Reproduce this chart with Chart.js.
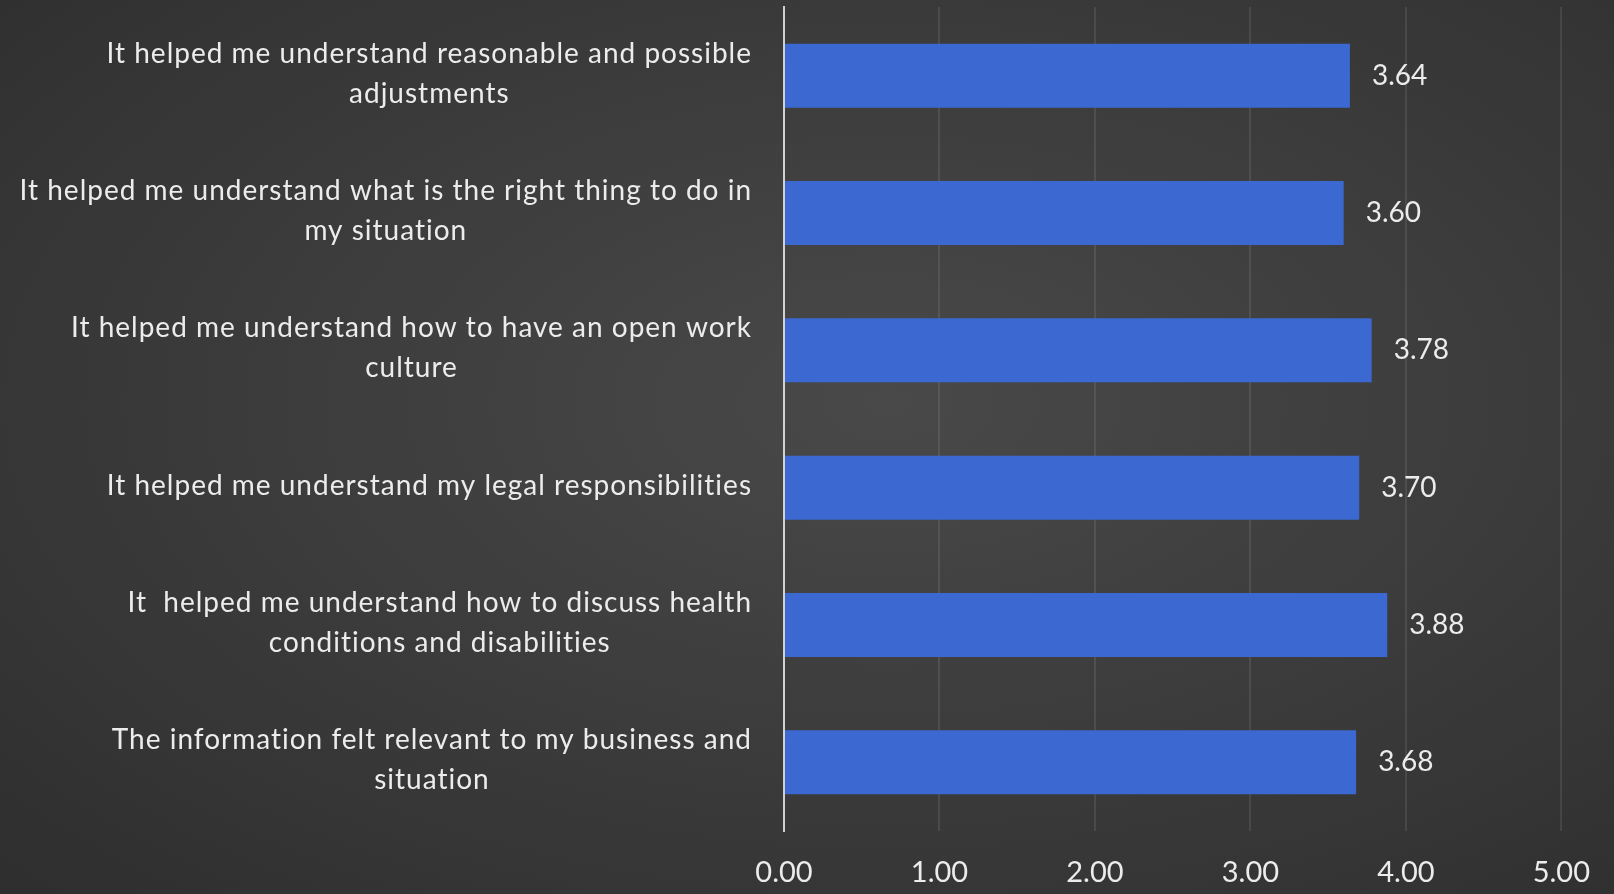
<!DOCTYPE html>
<html>
<head>
<meta charset="utf-8">
<script src="https://cdn.jsdelivr.net/npm/chart.js@4/dist/chart.umd.min.js"></script>
<style>
  html, body { margin: 0; padding: 0; }
  body {
    width: 1614px; height: 894px; overflow: hidden;
    background: radial-gradient(ellipse at 55% 45%, #494949 0%, #3d3d3d 45%, #2e2e2e 100%);
  }
  #wrap { position: relative; width: 1614px; height: 894px; }
</style>
</head>
<body>
<div id="wrap"><canvas id="c"></canvas></div>
<script>
const categories = [
  ["It helped me understand reasonable and possible", "adjustments"],
  ["It helped me understand what is the right thing to do in", "my situation"],
  ["It helped me understand how to have an open work", "culture"],
  ["It helped me understand my legal responsibilities"],
  ["It  helped me understand how to discuss health", "conditions and disabilities"],
  ["The information felt relevant to my business and", "situation"]
];
const scores = [3.64, 3.60, 3.78, 3.70, 3.88, 3.68];
const xTicks = [0, 1, 2, 3, 4, 5];

const FONT = "Lato, 'Open Sans', sans-serif";
const TEXT = '#ececec';

const labelPlugin = {
  id: 'labelPlugin',
  afterDatasetsDraw(chart) {
    const ctx = chart.ctx;
    const meta = chart.getDatasetMeta(0);
    const yScale = chart.scales.y;
    ctx.save();
    ctx.fillStyle = TEXT;
    ctx.font = '28px ' + FONT;
    ctx.textBaseline = 'middle';
    // value labels
    ctx.textAlign = 'left';
    meta.data.forEach((bar, i) => {
      ctx.fillText(scores[i].toFixed(2), bar.x + 22, bar.y);
    });
    // category labels: block right aligned, lines centred within block
    ctx.letterSpacing = '1px';
    const right = yScale.right - 32;
    const lh = 40;
    ctx.textAlign = 'center';
    categories.forEach((lines, i) => {
      const y = yScale.getPixelForTick(i) - 2;
      const w = Math.max(...lines.map(l => ctx.measureText(l).width));
      const cx = right - w / 2;
      const y0 = y - (lines.length - 1) * lh / 2;
      lines.forEach((l, j) => ctx.fillText(l, cx, y0 + j * lh));
    });
    ctx.restore();
  }
};

new Chart(document.getElementById('c'), {
  type: 'bar',
  data: {
    labels: categories,
    datasets: [{
      data: scores,
      backgroundColor: '#3c68d2',
      borderWidth: 0,
      barPercentage: 0.466,
      categoryPercentage: 1
    }]
  },
  options: {
    indexAxis: 'y',
    responsive: true,
    maintainAspectRatio: false,
    animation: false,
    layout: { padding: { top: 7, right: 48, left: 0, bottom: 0 } },
    plugins: { legend: { display: false }, tooltip: { enabled: false } },
    scales: {
      x: {
        min: 0, max: 5,
        afterBuildTicks: (s) => { s.ticks = xTicks.map(v => ({ value: v })); },
        afterFit: (s) => { s.height = 63; },
        grid: {
          color: (c) => c.index === 0 ? 'rgba(255,255,255,0)' : 'rgba(255,255,255,0.09)',
          lineWidth: 2,
          drawTicks: false
        },
        border: { display: false },
        ticks: {
          color: TEXT,
          font: { family: FONT, size: 29 },
          padding: 24,
          callback: (v) => Number(v).toFixed(2)
        }
      },
      y: {
        afterFit: (s) => { s.width = 784; },
        grid: { display: false, drawTicks: false },
        border: { display: true, color: 'rgba(235,235,235,0.85)', width: 2 },
        ticks: { display: false }
      }
    }
  },
  plugins: [labelPlugin]
});
</script>
</body>
</html>
